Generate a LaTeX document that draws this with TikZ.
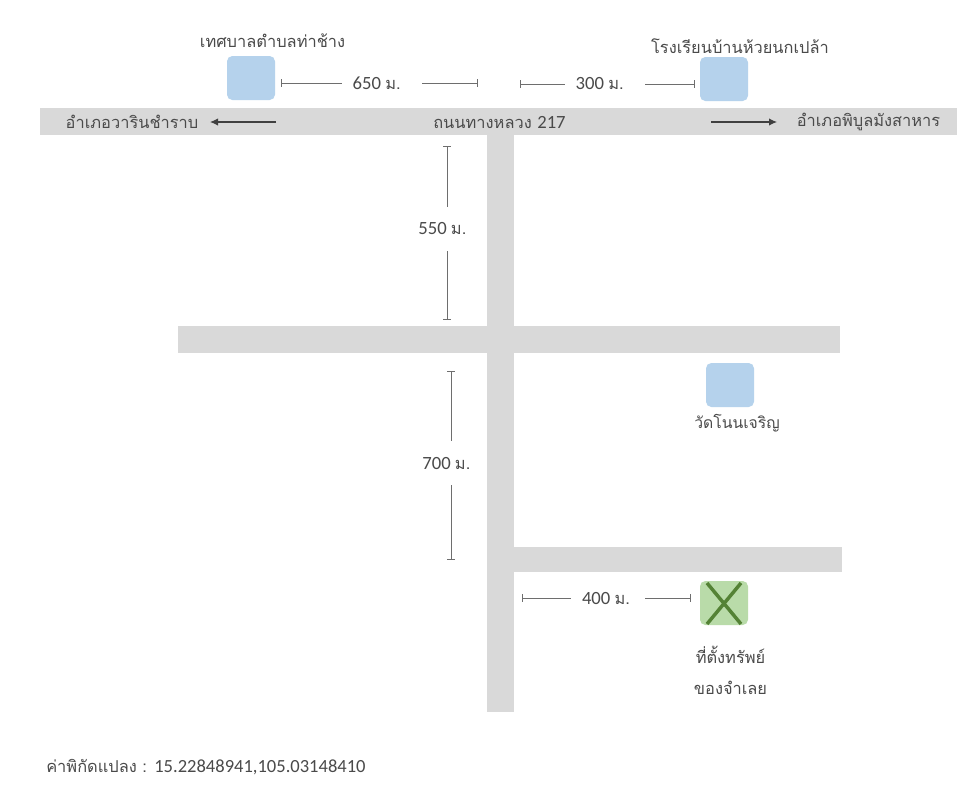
\documentclass[tikz,border=0pt]{standalone}
\usepackage{fontspec}
\usetikzlibrary{arrows.meta}
\newfontfamily\thaifont[Script=Thai]{Loma}
\newfontfamily\latfont{Carlito}
\definecolor{road}{HTML}{D9D9D9}
\definecolor{bluebox}{HTML}{B5D2EC}
\definecolor{greenbox}{HTML}{B9DBA9}
\definecolor{greencross}{HTML}{548235}
\definecolor{txt}{HTML}{4A4A4A}
\definecolor{dimline}{HTML}{6E6E6E}
\tikzset{
  x=0.75pt,y=-0.75pt,
  roadbar/.style={fill=road,draw=none},
  place/.style={fill=bluebox,draw=none,rounded corners=4pt,minimum width=36pt,minimum height=33pt,inner sep=0pt},
  label/.style={text=txt,font=\thaifont\fontsize{12.3pt}{15pt}\selectfont,inner sep=0pt,align=center},
  dimlabel/.style={label,font=\latfont\fontsize{14pt}{16pt}\selectfont},
  dimbar/.style={draw=dimline,line width=0.7pt,-{Bar[width=5.5pt,line width=0.7pt]}},
  dirarrow/.style={draw=black!75,line width=0.8pt,-{Latex[length=6pt,width=5.5pt]}},
}
\newcommand{\um}{{\thaifont\fontsize{12.3pt}{15pt}\selectfont ม.}}
\begin{document}
\begin{tikzpicture}
\useasboundingbox (0,0) rectangle (971,800);
\fill[white] (0,0) rectangle (971,800);
% roads
\fill[roadbar] (40,108) rectangle (957,135);
\fill[roadbar] (487,135) rectangle (514,712);
\fill[roadbar] (178,326) rectangle (840,353);
\fill[roadbar] (514,547) rectangle (842,572);
% places
\node[place] (tessaban) at (251,78) {};
\node[place] (school) at (724,79) {};
\node[place] (temple) at (730,385) {};
\node[place,fill=greenbox] (land) at (724,603) {};
\draw[greencross,line width=2.6pt] (707,583) -- (741,624) (741,583) -- (707,624);
% place labels
\node[label] (ltess) at (272.5,41) {เทศบาลตำบลท่าช้าง};
\node[label] (lschool) at (740,46) {โรงเรียนบ้านห้วยนกเปล้า};
\node[label,font=\thaifont\fontsize{11.8pt}{15pt}\selectfont] (ltemple) at (737,423) {วัดโนนเจริญ};
\node[label] (lland1) at (730.5,655) {ที่ตั้งทรัพย์};
\node[label] (lland2) at (730.5,688) {ของจำเลย};
% road labels
\node[label] (lwest) at (132,122) {อำเภอวารินชำราบ};
\node[label] (lhighway) at (499.5,122) {ถนนทางหลวง {\latfont\fontsize{14pt}{16pt}\selectfont 217}};
\node[label] (least) at (868.5,122) {อำเภอพิบูลมังสาหาร};
% direction arrows
\coordinate (wstart) at (276,122);
\coordinate (wend) at (210,122);
\coordinate (estart) at (711,122);
\coordinate (eend) at (777,122);
\draw[dirarrow] (wstart) -- (wend);
\draw[dirarrow] (estart) -- (eend);
% dimension 650
\node[dimlabel,minimum width=60pt,minimum height=14pt] (d650) at (382,83) {\hspace{-8pt}650 \um};
\coordinate (d650a) at (281,83);
\coordinate (d650b) at (478,83);
\draw[dimbar] (d650) -- (d650a);
\draw[dimbar] (d650) -- (d650b);
% dimension 300
\node[dimlabel,minimum width=60pt,minimum height=14pt] (d300) at (605,84) {\hspace{-8pt}300 \um};
\coordinate (d300a) at (520,84);
\coordinate (d300b) at (695,84);
\draw[dimbar] (d300) -- (d300a);
\draw[dimbar] (d300) -- (d300b);
% dimension 400
\node[dimlabel,minimum width=55.5pt,minimum height=14pt] (d400) at (608,598) {\hspace{-3pt}400 \um};
\coordinate (d400a) at (522,598);
\coordinate (d400b) at (691,598);
\draw[dimbar] (d400) -- (d400a);
\draw[dimbar] (d400) -- (d400b);
% dimension 550
\node[dimlabel,minimum width=40pt,minimum height=33pt] (d550) at (447,229) {\hspace{-7pt}550 \um};
\coordinate (d550a) at (447,146);
\coordinate (d550b) at (447,320);
\draw[dimbar] (d550) -- (d550a);
\draw[dimbar] (d550) -- (d550b);
% dimension 700
\node[dimlabel,minimum width=40pt,minimum height=33pt] (d700) at (451,463) {\hspace{-7pt}700 \um};
\coordinate (d700a) at (451,371);
\coordinate (d700b) at (451,560);
\draw[dimbar] (d700) -- (d700a);
\draw[dimbar] (d700) -- (d700b);
% parcel coordinates
\node[label,anchor=west] (coords) at (46,767) {ค่าพิกัดแปลง : {\latfont\fontsize{13.9pt}{16pt}\selectfont 15.22848941,105.03148410}};
\end{tikzpicture}
\end{document}
